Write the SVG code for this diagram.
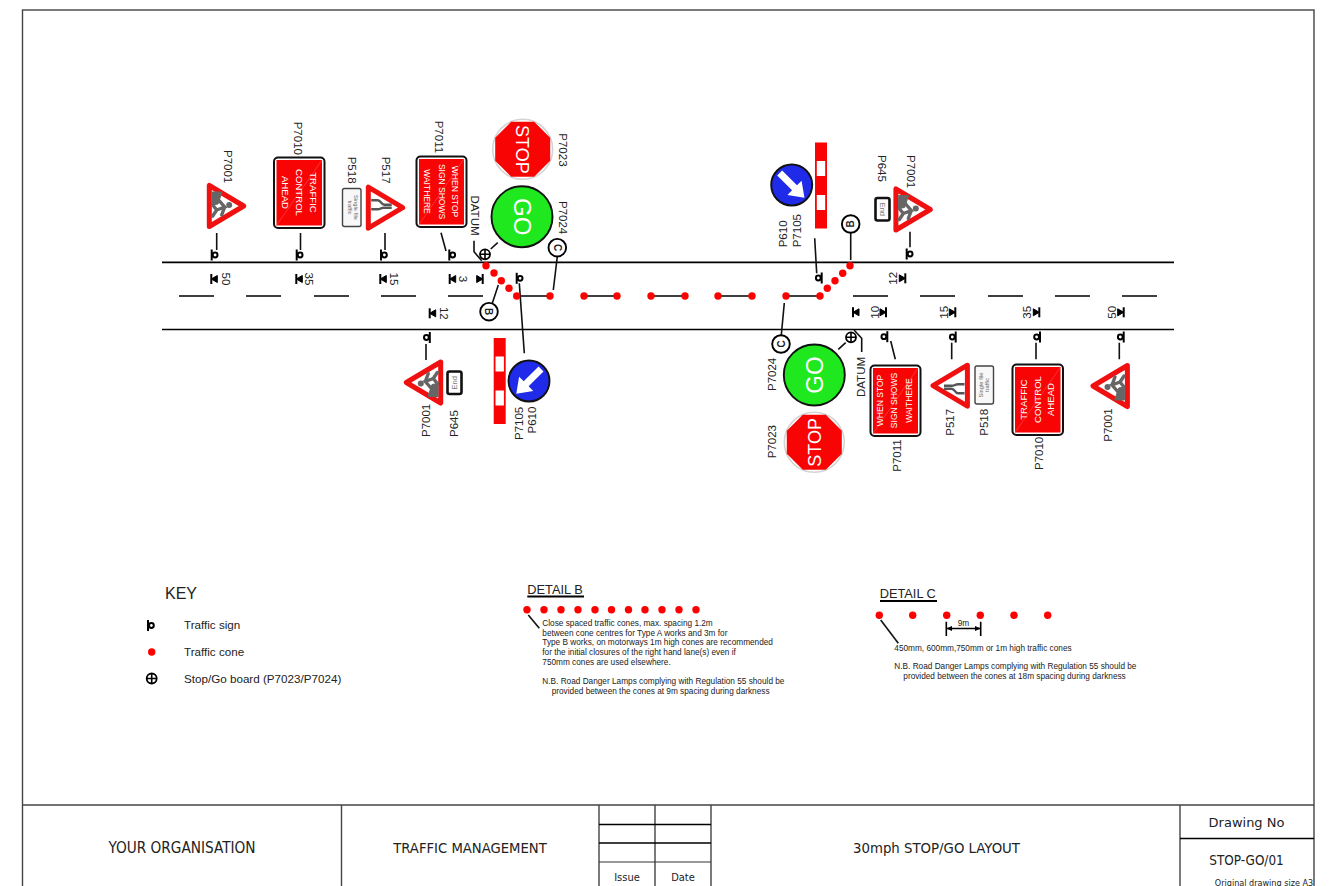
<svg xmlns="http://www.w3.org/2000/svg" xmlns:xlink="http://www.w3.org/1999/xlink" width="1332" height="886" viewBox="0 0 1332 886">
<style>
text{font-family:"Liberation Sans",Arial,sans-serif;fill:#222}
.lb{font-size:11.5px}
.lbr{font-size:11.5px;text-anchor:middle}
.mid{text-anchor:middle}
.w{fill:#fff;text-anchor:middle}
.t8{font-size:8.25px}
.tb{font-family:"DejaVu Sans Condensed","DejaVu Sans",sans-serif;text-anchor:middle}
.ln{stroke:#000;fill:none;stroke-width:1.6}
.thin{stroke:#111;fill:none;stroke-width:1.6}
.frame{stroke:#444;fill:none;stroke-width:1.4}
.road{stroke:#000;fill:none;stroke-width:1.7}
.tri{fill:#fff;stroke:#f01010;stroke-width:5;stroke-linejoin:round}
.board{fill:#fff;stroke:#111;stroke-width:2}
.red{fill:#f80404}
.diag{stroke:#ff5050;stroke-width:.6}
.gm{stroke:#666;stroke-width:3.4;fill:none;stroke-linecap:round}
.gs{stroke:#555;stroke-width:2.4;fill:none}
</style>
<defs>
<g id="cone"><circle r="3.7" fill="#f00"/></g>
<g id="postL"><path d="M0,-5.5V5.5" stroke="#000" stroke-width="2"/><circle cx="3.4" cy="0" r="2.4" fill="#fff" stroke="#000" stroke-width="2"/></g>
<g id="postR"><path d="M0,-5.5V5.5" stroke="#000" stroke-width="2"/><circle cx="-3.4" cy="0" r="2.4" fill="#fff" stroke="#000" stroke-width="2"/></g>
<g id="dimL"><path d="M-2,-5V5" stroke="#000" stroke-width="2"/><path d="M-2,0L4,-3.5V3.5Z" fill="#000" stroke="#000"/></g>
<g id="dimR"><path d="M2,-5V5" stroke="#000" stroke-width="2"/><path d="M2,0L-4,-3.5V3.5Z" fill="#000" stroke="#000"/></g>
<g id="datum"><circle r="5" fill="#fff" stroke="#000" stroke-width="1.8"/><path d="M-5,0H5M0,-5V5" stroke="#000" stroke-width="1.6"/></g>
<g id="tag"><circle r="8.8" fill="#fff" stroke="#000" stroke-width="1.9"/></g>
<g id="men">
<polygon class="tri" points="-20.5,-2.6 20.5,-2.6 0,-37"/>
<path d="M-14,-5.3 L-14,-15.3 L-2,-11.3 L-1,-5.3 Z" fill="#666" stroke="#666"/>
<path class="gm" d="M4,-10 L-1,-6 M4,-10 L10,-6 M4,-10 L1,-18 L-7,-11 M1,-18 L9,-15"/>
<circle cx="-1" cy="-22.5" r="3" fill="#666"/>
</g>
<g id="narrow">
<polygon class="tri" points="-20.5,-2.6 20.5,-2.6 0,-37"/>
<path class="gs" d="M-7.5,-5.5 L-7.5,-12 C-7.5,-15.5 -3,-15 -3,-18.5 L-3,-26"/>
<path class="gs" d="M1.5,-5.5 L1.5,-12 C1.5,-15 0,-15 0,-18 L0,-26"/>
</g>
<g id="barrier">
<rect x="-6" y="-43" width="12" height="86" class="red"/>
<rect x="-4.2" y="-24.5" width="8.4" height="15" fill="#fff"/>
<rect x="-4.2" y="9.5" width="8.4" height="15" fill="#fff"/>
</g>
<g id="stopSign">
<circle r="30" fill="#fff" stroke="#d4d4d4" stroke-width="1.6"/>
<polygon class="red" points="-11.5,-27.5 11.5,-27.5 27.5,-11.5 27.5,11.5 11.5,27.5 -11.5,27.5 -27.5,11.5 -27.5,-11.5"/>
</g>
<g id="goSign"><circle r="30.5" fill="#1fe81f" stroke="#111" stroke-width="1.9"/></g>
<g id="blue"><circle r="20.5" fill="#1f2be8" stroke="#111" stroke-width="1.9"/></g>
<polygon id="arrow" fill="#fff" points="-17,-3.5 4,-3.5 4,-10 18,0 4,10 4,3.5 -17,3.5"/>
</defs>

<g id="frame">
<rect x="22.5" y="10" width="1291.5" height="880" class="frame"/>
<path class="frame" d="M22.5,805H1314M341.5,805V886M599,805V886M655,805V886M711,805V886M1180,805V886"/>
<path stroke="#000" stroke-width="1.4" fill="none" d="M599,824.5H711M599,843H711M1180,838.5H1314"/>
<path stroke="#333" stroke-width="1.2" fill="none" d="M599,862H711"/>
<text class="tb" x="182" y="853" font-size="15.2">YOUR ORGANISATION</text>
<text class="tb" x="470" y="853" font-size="14.7">TRAFFIC MANAGEMENT</text>
<text class="tb" x="936.5" y="853" font-size="14.8">30mph STOP/GO LAYOUT</text>
<text class="tb" x="627" y="881" font-size="11">Issue</text>
<text class="tb" x="683" y="881" font-size="11">Date</text>
<text class="tb" x="1246.5" y="827" font-size="13" style="font-family:'DejaVu Sans',sans-serif">Drawing No</text>
<text class="tb" x="1246.5" y="865" font-size="13.4">STOP-GO/01</text>
<text class="tb" x="1264" y="886" font-size="9">Original drawing size A3</text>
</g>

<g id="road">
<path class="road" d="M162,262.3H1174M162,329.5H1174"/>
<path class="ln" d="M179,296H214M246,296H281M314,296H349M381,296H416M448,296H483M853,296H888M920,296H955M988,296H1023M1055,296H1090M1122,296H1157"/>
<path class="ln" d="M516.7,296H550M584,296H617M651,296H685M718,296H752M786,296H820"/>
</g>

<g id="connectors">
<path class="thin" d="M216.7,233V250M300.5,233V250M385,233V250M441,232.7L446,251M474,240.7V251.7L481.7,260.7M490.7,249L497.7,242.7M557.3,256.5L553.3,290M498.3,285L492.3,303.3M519.3,283.3L524.3,353.3M426,344V360M814.7,238.3L816.7,273.3M850.7,233V260M910,231.7V247.3M784.3,303L781.3,335M838.3,349.3L845.7,342.7M854,330L861.7,338.3V352M890.7,341L895.3,359.3M951.7,342.7V359.3M1036,342.7V359.3M1119.3,342.7V359.3"/>
</g>

<g id="cones">
<use href="#cone" x="486" y="265.7"/><use href="#cone" x="494" y="273"/><use href="#cone" x="501.3" y="280.7"/><use href="#cone" x="509" y="288.3"/><use href="#cone" x="516.7" y="296"/><use href="#cone" x="550" y="296"/><use href="#cone" x="584" y="296"/><use href="#cone" x="617" y="296"/><use href="#cone" x="651" y="296"/><use href="#cone" x="685" y="296"/><use href="#cone" x="718" y="296"/><use href="#cone" x="752" y="296"/><use href="#cone" x="786" y="296"/><use href="#cone" x="820" y="296"/><use href="#cone" x="827.3" y="288.3"/><use href="#cone" x="835" y="280.7"/><use href="#cone" x="842.7" y="273.3"/><use href="#cone" x="850" y="265.7"/>
</g>

<g id="posts">
<use href="#postL" x="211.7" y="255"/><use href="#postL" x="296.7" y="255"/><use href="#postL" x="381" y="255"/><use href="#postL" x="449.3" y="255"/><use href="#postL" x="516.7" y="278.3"/>
<use href="#postR" x="429.8" y="337.5"/><use href="#postR" x="821.7" y="278"/><use href="#postR" x="887.3" y="336.7"/><use href="#postR" x="955.7" y="337"/><use href="#postR" x="1040" y="337"/><use href="#postR" x="1123.7" y="337"/>
<use href="#postL" x="906.7" y="254"/>
</g>

<g id="distances">
<use href="#dimL" x="213.3" y="279"/><text class="lbr" transform="translate(221.5,279) rotate(90)">50</text>
<use href="#dimL" x="298.3" y="279"/><text class="lbr" transform="translate(305,279) rotate(90)">35</text>
<use href="#dimL" x="382.3" y="279"/><text class="lbr" transform="translate(389.5,279) rotate(90)">15</text>
<use href="#dimL" x="451.7" y="279"/><use href="#dimR" x="480.7" y="279"/><text class="lbr" transform="translate(459,279) rotate(90)">3</text>
<use href="#dimL" x="431.7" y="313.3"/><text class="lbr" transform="translate(439.5,313.3) rotate(90)">12</text>
<use href="#dimR" x="903.3" y="278.3"/><text class="lbr" transform="translate(897,278.3) rotate(-90)">12</text>
<use href="#dimL" x="855" y="312.3"/><use href="#dimR" x="884" y="312.3"/><text class="lbr" transform="translate(879,312.3) rotate(-90)">10</text>
<use href="#dimR" x="953.3" y="312.3"/><text class="lbr" transform="translate(947.5,312.3) rotate(-90)">15</text>
<use href="#dimR" x="1037.3" y="312.3"/><text class="lbr" transform="translate(1031,312.3) rotate(-90)">35</text>
<use href="#dimR" x="1121.7" y="312.3"/><text class="lbr" transform="translate(1115.5,312.3) rotate(-90)">50</text>
</g>

<g id="tag-b-left"><use href="#tag" x="489" y="311.7"/><text transform="translate(485.4,311.7) rotate(90)" class="mid" font-size="10" font-weight="bold">B</text></g>
<g id="tag-c-left"><use href="#tag" x="557.3" y="247.7"/><text transform="translate(553.8,247.7) rotate(90)" class="mid" font-size="10" font-weight="bold">C</text></g>
<g id="tag-b-right"><use href="#tag" x="850.7" y="224"/><text transform="translate(854.3,224) rotate(-90)" class="mid" font-size="10" font-weight="bold">B</text></g>
<g id="tag-c-right"><use href="#tag" x="781" y="344"/><text transform="translate(784.6,344) rotate(-90)" class="mid" font-size="10" font-weight="bold">C</text></g>
<g id="datum-left"><use href="#datum" x="485" y="254.3"/><text class="lbr" transform="translate(471,215.5) rotate(90)">DATUM</text></g>
<g id="datum-right"><use href="#datum" x="851" y="337.3"/><text class="lbr" transform="translate(865,377) rotate(-90)">DATUM</text></g>

<g id="sign-p7001-1"><use href="#men" transform="translate(206.7,206) rotate(90)"/><text class="lb" transform="translate(224.2,150) rotate(90)">P7001</text></g>
<g id="sign-p7010-1">
<rect x="274" y="157.5" width="50.5" height="70.5" rx="4" class="board"/><rect x="276.5" y="160" width="45.5" height="65.5" class="red"/>
<line x1="276.5" y1="225.5" x2="322" y2="160" class="diag"/>
<text class="w" font-size="9.6" transform="translate(309.8,192.5) rotate(90)">TRAFFIC</text>
<text class="w" font-size="9.6" transform="translate(295.8,192.5) rotate(90)">CONTROL</text>
<text class="w" font-size="9.6" transform="translate(281.8,192.5) rotate(90)">AHEAD</text>
<text class="lb" transform="translate(293.6,121.7) rotate(90)">P7010</text>
</g>
<g id="sign-p518-1">
<rect x="342.5" y="188.5" width="18.5" height="38" rx="2" fill="#f8f8f8" stroke="#444" stroke-width="1.4"/>
<text class="mid" style="fill:#666" font-size="5.8" transform="translate(353.5,207.5) rotate(90)">Single file</text>
<text class="mid" style="fill:#666" font-size="5.8" transform="translate(347.5,207.5) rotate(90)">traffic</text>
<text class="lb" transform="translate(348.2,156.7) rotate(90)">P518</text>
</g>
<g id="sign-p517-1"><use href="#narrow" transform="translate(365.7,207.7) rotate(90)"/><text class="lb" transform="translate(382,156.7) rotate(90)">P517</text></g>
<g id="sign-p7011-1">
<rect x="416.5" y="156.5" width="50" height="70.5" rx="4" class="board"/><rect x="419" y="159" width="45" height="65.5" class="red"/>
<line x1="419" y1="224.5" x2="464" y2="159" class="diag"/>
<text class="w" font-size="8.5" transform="translate(452,191.5) rotate(90)">WHEN STOP</text>
<text class="w" font-size="8.5" transform="translate(438.5,191.5) rotate(90)">SIGN SHOWS</text>
<text class="w" font-size="8.5" transform="translate(424,191.5) rotate(90)">WAITHERE</text>
<text class="lb" transform="translate(435.2,120.7) rotate(90)">P7011</text>
</g>
<g id="sign-p7023-1"><use href="#stopSign" x="522.7" y="149.3"/><text class="w" font-size="18" transform="translate(516.2,149.3) rotate(90)">STOP</text><text class="lb" transform="translate(559.2,133.3) rotate(90)">P7023</text></g>
<g id="sign-p7024-1"><use href="#goSign" x="522" y="216.7"/><text class="w" font-size="24" transform="translate(513.5,216.7) rotate(90)">GO</text><text class="lb" transform="translate(559.2,201) rotate(90)">P7024</text></g>

<g id="sign-p7001-2"><use href="#men" transform="translate(443.3,382.5) rotate(-90)"/><text class="lb" transform="translate(429.9,437) rotate(-90)">P7001</text></g>
<g id="sign-p645-1">
<rect x="447.5" y="371.5" width="14" height="22.5" rx="2" fill="#fff" stroke="#111" stroke-width="2.6"/>
<text class="mid" style="fill:#777" font-size="7.5" transform="translate(457,382.8) rotate(-90)">End</text>
<text class="lb" transform="translate(458.1,437) rotate(-90)">P645</text>
</g>
<g id="sign-p7105-1"><use href="#barrier" x="499.7" y="381"/><text class="lb" transform="translate(523.1,440) rotate(-90)">P7105</text></g>
<g id="sign-p610-1"><use href="#blue" x="529" y="381"/><use href="#arrow" transform="translate(529,381) rotate(135)"/><text class="lb" transform="translate(536.1,433.5) rotate(-90)">P610</text></g>

<g id="sign-p7105-2"><use href="#barrier" x="821" y="185.5"/><text class="lb" transform="translate(801.4,247.3) rotate(-90)">P7105</text></g>
<g id="sign-p610-2"><use href="#blue" x="791.7" y="185"/><use href="#arrow" transform="translate(791.7,185) rotate(45)"/><text class="lb" transform="translate(787.4,247.3) rotate(-90)">P610</text></g>
<g id="sign-p645-2">
<rect x="875.5" y="198" width="14" height="22.5" rx="2" fill="#fff" stroke="#111" stroke-width="2.6"/>
<text class="mid" style="fill:#777" font-size="7.5" transform="translate(879.5,209.3) rotate(90)">End</text>
<text class="lb" transform="translate(877.6,155) rotate(90)">P645</text>
</g>
<g id="sign-p7001-3"><use href="#men" transform="translate(893.3,209.5) rotate(90)"/><text class="lb" transform="translate(906.6,155) rotate(90)">P7001</text></g>

<g id="sign-p7024-2"><use href="#goSign" x="814.3" y="375"/><text class="w" font-size="24" transform="translate(822.8,375) rotate(-90)">GO</text><text class="lb" transform="translate(776.4,391) rotate(-90)">P7024</text></g>
<g id="sign-p7023-2"><use href="#stopSign" x="814.3" y="442.3"/><text class="w" font-size="18" transform="translate(820.8,442.3) rotate(-90)">STOP</text><text class="lb" transform="translate(776.4,458.3) rotate(-90)">P7023</text></g>
<g id="sign-p7011-2">
<rect x="870.5" y="365.5" width="50" height="70.5" rx="4" class="board"/><rect x="873" y="368" width="45" height="65.5" class="red"/>
<line x1="873" y1="433.5" x2="918" y2="368" class="diag"/>
<text class="w" font-size="8.5" transform="translate(883,400.5) rotate(-90)">WHEN STOP</text>
<text class="w" font-size="8.5" transform="translate(897,400.5) rotate(-90)">SIGN SHOWS</text>
<text class="w" font-size="8.5" transform="translate(912,400.5) rotate(-90)">WAITHERE</text>
<text class="lb" transform="translate(900.8,471.7) rotate(-90)">P7011</text>
</g>
<g id="sign-p517-2"><use href="#narrow" transform="translate(970,385.7) rotate(-90)"/><text class="lb" transform="translate(954.1,435.7) rotate(-90)">P517</text></g>
<g id="sign-p518-2">
<rect x="975" y="366" width="18.5" height="38" rx="2" fill="#f8f8f8" stroke="#444" stroke-width="1.4"/>
<text class="mid" style="fill:#666" font-size="5.8" transform="translate(983,385) rotate(-90)">Single file</text>
<text class="mid" style="fill:#666" font-size="5.8" transform="translate(989,385) rotate(-90)">traffic</text>
<text class="lb" transform="translate(988.1,435.7) rotate(-90)">P518</text>
</g>
<g id="sign-p7010-2">
<rect x="1012.5" y="364.5" width="50.5" height="70.5" rx="4" class="board"/><rect x="1015" y="367" width="45.5" height="65.5" class="red"/>
<line x1="1015" y1="432.5" x2="1060.5" y2="367" class="diag"/>
<text class="w" font-size="9.6" transform="translate(1027,399.5) rotate(-90)">TRAFFIC</text>
<text class="w" font-size="9.6" transform="translate(1040.5,399.5) rotate(-90)">CONTROL</text>
<text class="w" font-size="9.6" transform="translate(1054,399.5) rotate(-90)">AHEAD</text>
<text class="lb" transform="translate(1043.1,470) rotate(-90)">P7010</text>
</g>
<g id="sign-p7001-4"><use href="#men" transform="translate(1130,386) rotate(-90)"/><text class="lb" transform="translate(1111.8,441.7) rotate(-90)">P7001</text></g>

<g id="key">
<text x="165" y="599" font-size="16">KEY</text>
<use href="#postL" x="148" y="625.5"/><text x="184" y="629" font-size="11.65">Traffic sign</text>
<use href="#cone" x="151.7" y="652"/><text x="184" y="656" font-size="11.65">Traffic cone</text>
<use href="#datum" x="151.7" y="678.5"/><text x="184" y="683" font-size="11.65">Stop/Go board (P7023/P7024)</text>
</g>

<g id="detail-b">
<text x="527.3" y="593.5" font-size="12.8">DETAIL B</text>
<path stroke="#000" stroke-width="2" fill="none" d="M527.3,596.5H584"/>
<use href="#cone" x="527" y="609.7"/><use href="#cone" x="544" y="609.7"/><use href="#cone" x="561" y="609.7"/><use href="#cone" x="578" y="609.7"/><use href="#cone" x="595" y="609.7"/><use href="#cone" x="611.5" y="609.7"/><use href="#cone" x="628.5" y="609.7"/><use href="#cone" x="645" y="609.7"/><use href="#cone" x="662" y="609.7"/><use href="#cone" x="679" y="609.7"/><use href="#cone" x="696" y="609.7"/>
<path class="thin" d="M528.3,615L539.3,628.3"/>
<text class="t8" x="542.3" y="626">Close spaced traffic cones, max. spacing 1.2m</text>
<text class="t8" x="542.3" y="635.5">between cone centres for Type A works and 3m for</text>
<text class="t8" x="542.3" y="645">Type B works, on motorways 1m high cones are recommended</text>
<text class="t8" x="542.3" y="654.5">for the initial closures of the right hand lane(s) even if</text>
<text class="t8" x="542.3" y="664.5">750mm cones are used elsewhere.</text>
<text class="t8" x="542.3" y="683.5">N.B. Road Danger Lamps complying with Regulation 55 should be</text>
<text class="t8" x="551.7" y="693.5">provided between the cones at 9m spacing during darkness</text>
</g>

<g id="detail-c">
<text x="879.7" y="598.3" font-size="12.8">DETAIL C</text>
<path stroke="#000" stroke-width="2" fill="none" d="M880,601H937"/>
<use href="#cone" x="879.3" y="615.3"/><use href="#cone" x="912.7" y="615.3"/><use href="#cone" x="946.7" y="615.3"/><use href="#cone" x="980.3" y="615.3"/><use href="#cone" x="1014" y="615.3"/><use href="#cone" x="1047.7" y="615.3"/>
<path class="thin" d="M880.7,620L898.3,643.3"/>
<path stroke="#000" stroke-width="1.6" fill="none" d="M946.3,621.7V636M980.7,621.7V636M946.3,628.5H980.7"/>
<path fill="#000" d="M946.3,628.5L952,626V631ZM980.7,628.5L975,626V631Z"/>
<text class="t8 mid" x="963.5" y="625.5">9m</text>
<text class="t8" x="894.3" y="651">450mm, 600mm,750mm or 1m high traffic cones</text>
<text class="t8" x="894.3" y="669">N.B. Road Danger Lamps complying with Regulation 55 should be</text>
<text class="t8" x="903.3" y="678.5">provided between the cones at 18m spacing during darkness</text>
</g>
</svg>
